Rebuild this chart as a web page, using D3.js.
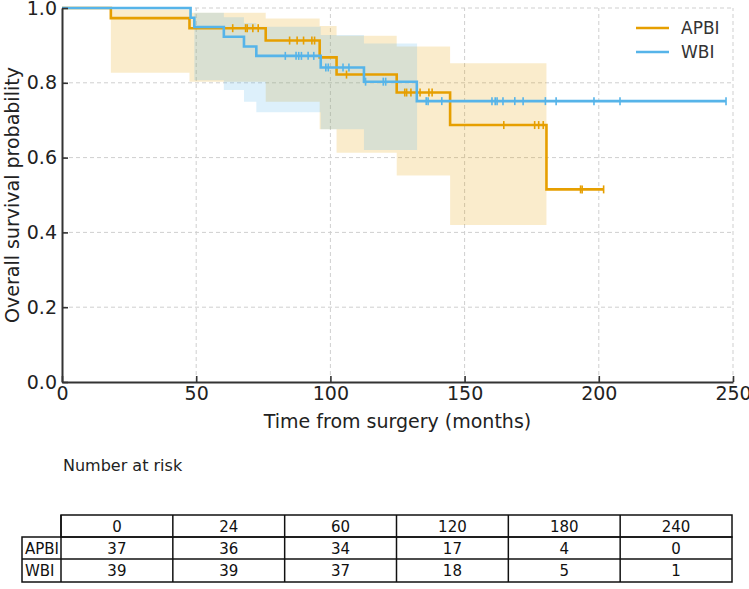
<!DOCTYPE html>
<html>
<head>
<meta charset="utf-8">
<script src="https://cdn.jsdelivr.net/npm/d3@7"></script>
<style>
  body { margin: 0; background: #fff; }
  svg { display: block; font-family: "DejaVu Sans", sans-serif; }
</style>
</head>
<body>
<svg id="kmChart" width="749" height="589"></svg>
<script>
// [A] Datos ------------------------------------------------------------------
// Curvas Kaplan-Meier: [tiempo, supervivencia] (escalón después del tiempo)
const apbiSteps = [[0, 1], [18.2, 0.973], [47.5, 0.946], [75.9, 0.913], [96.0, 0.868],
    [102.3, 0.822], [124.7, 0.774], [144.6, 0.687], [180.5, 0.515]];
const apbiEnd = 201.8;
const apbiCensored = [63.6, 68.4, 69.0, 71.1, 73.1, 84.8, 87.6, 90.0, 93.1, 94.1, 106.0,
    127.7, 128.4, 130.0, 133.4, 136.7, 137.9, 164.6, 176.1, 177.6, 179.3, 193.2, 193.8, 201.8];
// Intervalo de confianza: [tiempo, inferior, superior]
const apbiBand = [[18.2, 0.827, 0.996], [47.5, 0.803, 0.987], [75.9, 0.749, 0.972],
    [96.0, 0.676, 0.952], [102.3, 0.613, 0.926], [124.7, 0.552, 0.897], [144.6, 0.420, 0.852]];
const apbiBandEnd = 180.5;

const wbiSteps = [[0, 1], [47.9, 0.974], [49.3, 0.949], [60.3, 0.923], [67.8, 0.897],
    [72.4, 0.872], [96.4, 0.841], [112.5, 0.803], [132.2, 0.751]];
const wbiEnd = 247.4;
const wbiCensored = [83.2, 87.2, 88.2, 89.2, 91.7, 93.8, 98.3, 99.2, 104.7, 106.9, 113.1,
    119.7, 120.6, 135.7, 136.4, 141.5, 160.2, 161.4, 162.1, 164.3, 168.7, 171.8, 180.1,
    184.1, 198.2, 207.9, 247.4];
const wbiBand = [[49.3, 0.807, 0.987], [60.3, 0.781, 0.975], [67.8, 0.749, 0.960],
    [72.4, 0.721, 0.950], [96.4, 0.676, 0.928], [112.5, 0.620, 0.905]];
const wbiBandEnd = 132.3;

// Tabla de pacientes en riesgo
const riskTimes = [0, 24, 60, 120, 180, 240];
const riskApbi = [37, 36, 34, 17, 4, 0];
const riskWbi = [39, 39, 37, 18, 5, 1];

const xTicks = [0, 50, 100, 150, 200, 250];
const yTicks = [0, 0.2, 0.4, 0.6, 0.8, 1.0];

// [B] Configuración ------------------------------------------------------------
const svg = d3.select("#kmChart");
const x = d3.scaleLinear().domain([0, 250]).range([62, 733]);
const y = d3.scaleLinear().domain([0, 1]).range([382, 8]);
const axisFont = 19;

const groups = [
    { name: "APBI", color: "#E69F00", steps: apbiSteps, end: apbiEnd, censored: apbiCensored, band: apbiBand, bandEnd: apbiBandEnd },
    { name: "WBI", color: "#56B4E9", steps: wbiSteps, end: wbiEnd, censored: wbiCensored, band: wbiBand, bandEnd: wbiBandEnd }
];

// [C] Grilla punteada ------------------------------------------------------------
const grid = svg.append("g").attr("stroke", "#cfcfcf").attr("stroke-width", 1).attr("stroke-dasharray", "4,3");
grid.selectAll(".gx").data(xTicks.slice(1)).join("line")
    .attr("x1", d => x(d)).attr("x2", d => x(d))
    .attr("y1", y(0)).attr("y2", y(1));
grid.selectAll(".gy").data(yTicks.slice(1)).join("line")
    .attr("x1", x(0)).attr("x2", x(250))
    .attr("y1", d => y(d)).attr("y2", d => y(d));

// [D] Bandas de confianza ----------------------------------------------------------
const area = d3.area()
    .curve(d3.curveStepAfter)
    .x(d => x(d[0]))
    .y0(d => y(d[1]))
    .y1(d => y(d[2]));

groups.forEach(g => {
    const last = g.band[g.band.length - 1];
    svg.append("path")
        .datum([...g.band, [g.bandEnd, last[1], last[2]]])
        .attr("fill", g.color)
        .attr("fill-opacity", 0.2)
        .attr("d", area);
});

// [E] Curvas y censuras ----------------------------------------------------------
const line = d3.line()
    .curve(d3.curveStepAfter)
    .x(d => x(d[0]))
    .y(d => y(d[1]));

function survivalAt(steps, t) {
    let s = 1;
    steps.forEach(p => { if (p[0] <= t) s = p[1]; });
    return s;
}

groups.forEach(g => {
    const last = g.steps[g.steps.length - 1];
    svg.append("path")
        .datum([...g.steps, [g.end, last[1]]])
        .attr("fill", "none")
        .attr("stroke", g.color)
        .attr("stroke-width", 2.6)
        .attr("d", line);

    svg.append("g").selectAll("line")
        .data(g.censored)
        .join("line")
        .attr("x1", d => x(d)).attr("x2", d => x(d))
        .attr("y1", d => y(survivalAt(g.steps, d)) - 4)
        .attr("y2", d => y(survivalAt(g.steps, d)) + 4)
        .attr("stroke", g.color)
        .attr("stroke-width", 1.6);
});

// [F] Ejes ----------------------------------------------------------------------
const yAxis = svg.append("g")
    .attr("transform", `translate(${x(0)},0)`)
    .call(d3.axisLeft(y).tickValues(yTicks).tickFormat(d3.format(".1f"))
        .tickSizeInner(-6).tickSizeOuter(0).tickPadding(5));
const xAxis = svg.append("g")
    .attr("transform", `translate(0,${y(0)})`)
    .call(d3.axisBottom(x).tickValues(xTicks).tickFormat(d3.format("d"))
        .tickSizeInner(-6).tickSizeOuter(0).tickPadding(4));

[yAxis, xAxis].forEach(a => {
    a.select(".domain").attr("stroke", "#333").attr("stroke-width", 2);
    a.selectAll(".tick line").attr("stroke", "#333").attr("stroke-width", 1.6);
    a.selectAll(".tick text").attr("fill", "#222").attr("font-size", axisFont)
        .attr("font-family", "DejaVu Sans");
});

svg.append("text")
    .attr("transform", `translate(19,${(y(0) + y(1)) / 2}) rotate(-90)`)
    .attr("text-anchor", "middle")
    .attr("font-size", axisFont)
    .attr("fill", "#222")
    .text("Overall survival probability");

svg.append("text")
    .attr("x", (x(0) + x(250)) / 2)
    .attr("y", 428)
    .attr("text-anchor", "middle")
    .attr("font-size", axisFont)
    .attr("fill", "#222")
    .text("Time from surgery (months)");

// [G] Leyenda ---------------------------------------------------------------------
const legend = svg.append("g").attr("transform", "translate(636,28)");
groups.forEach((g, i) => {
    legend.append("line")
        .attr("x1", 0).attr("x2", 33)
        .attr("y1", i * 24).attr("y2", i * 24)
        .attr("stroke", g.color).attr("stroke-width", 2.6);
    legend.append("text")
        .attr("x", 45).attr("y", i * 24 + 6)
        .attr("font-size", 17)
        .attr("fill", "#333")
        .text(g.name);
});

// [H] Tabla "Number at risk" ----------------------------------------------------------
svg.append("text")
    .attr("x", 63).attr("y", 471)
    .attr("font-size", 16)
    .attr("fill", "#222")
    .text("Number at risk");

const col = d3.scaleBand().domain(riskTimes).range([61, 732]);
const rowY = [515, 537, 559, 582];
const labelX0 = 22;
const table = svg.append("g").attr("fill", "none").attr("stroke", "#111").attr("stroke-width", 1.5);

// Fila de encabezado (sin celda de etiqueta)
table.append("rect").attr("x", col.range()[0]).attr("y", rowY[0])
    .attr("width", col.range()[1] - col.range()[0]).attr("height", rowY[1] - rowY[0]);
// Filas de datos
table.append("rect").attr("x", labelX0).attr("y", rowY[1])
    .attr("width", col.range()[1] - labelX0).attr("height", rowY[3] - rowY[1]);
table.append("line").attr("x1", labelX0).attr("x2", col.range()[1])
    .attr("y1", rowY[2]).attr("y2", rowY[2]);
table.selectAll(".vcol").data(riskTimes).join("line")
    .attr("x1", d => col(d)).attr("x2", d => col(d))
    .attr("y1", rowY[0]).attr("y2", rowY[3]);

const rows = [
    { label: null, values: riskTimes },
    { label: "APBI", values: riskApbi },
    { label: "WBI", values: riskWbi }
];
const cells = svg.append("g").attr("font-size", 15).attr("fill", "#111");
rows.forEach((r, i) => {
    const cy = (rowY[i] + rowY[i + 1]) / 2 + 5.5;
    if (r.label) {
        cells.append("text").attr("x", labelX0 + 3).attr("y", cy).text(r.label);
    }
    cells.selectAll(null).data(r.values).join("text")
        .attr("x", (d, j) => col(riskTimes[j]) + col.bandwidth() / 2)
        .attr("y", cy)
        .attr("text-anchor", "middle")
        .text(d => d);
});
</script>
</body>
</html>
